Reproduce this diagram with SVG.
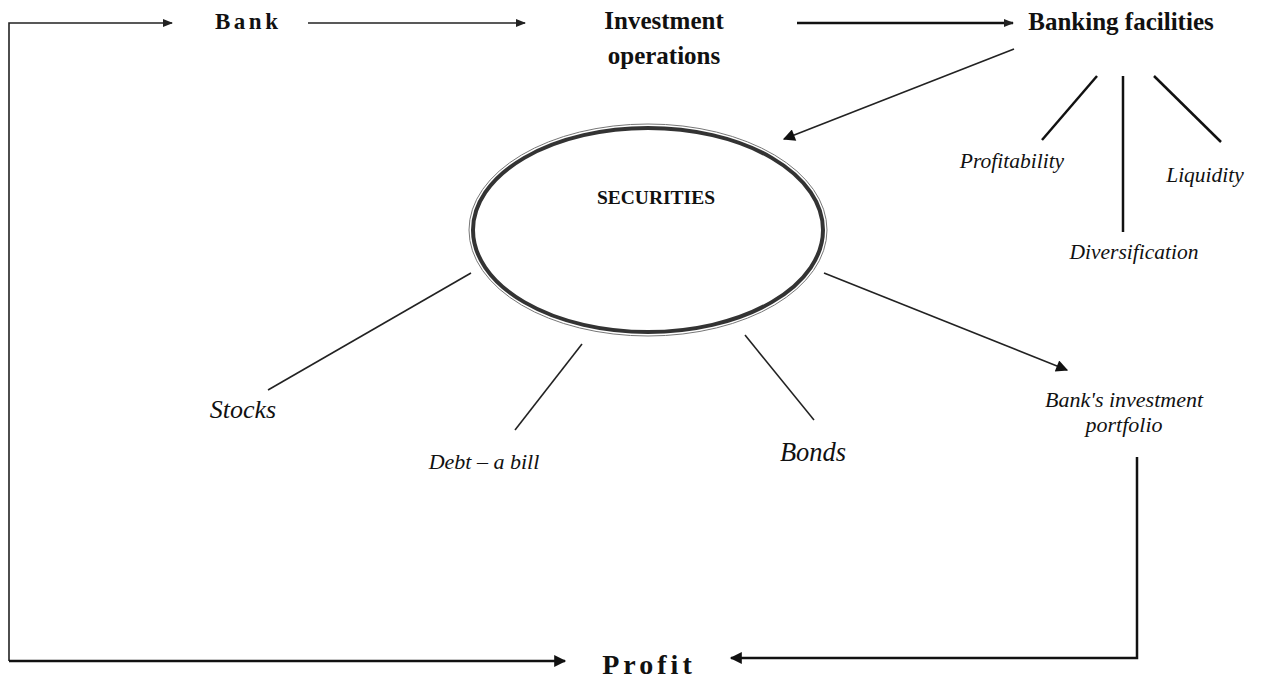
<svg xmlns="http://www.w3.org/2000/svg" width="1264" height="682" viewBox="0 0 1264 682">
<style>
.t{font-family:"Liberation Serif","Times New Roman",serif;fill:#111}
.b{font-weight:bold}
.i{font-style:italic}
.c{stroke:#222;stroke-width:1.6;fill:none}
.th{stroke:#111;stroke-width:2.5;fill:none}
</style>
<defs>
<marker id="ah" viewBox="0 0 10 10" refX="9" refY="5" markerWidth="10" markerHeight="10" markerUnits="userSpaceOnUse" orient="auto">
<path d="M0,1 L10,5 L0,9 Z" fill="#222"/>
</marker>
<marker id="ah2" viewBox="0 0 10 10" refX="9" refY="5" markerWidth="14" markerHeight="12" markerUnits="userSpaceOnUse" orient="auto">
<path d="M0,0 L10,5 L0,10 Z" fill="#111"/>
</marker>
</defs>
<rect width="1264" height="682" fill="#fff"/>
<g id="connectors">
<polyline class="c" points="9,661 9,23 172,23" marker-end="url(#ah)"/>
<line class="c" x1="308" y1="23" x2="525" y2="23" marker-end="url(#ah)"/>
<line class="th" x1="797" y1="23" x2="1013" y2="23" stroke-width="2" marker-end="url(#ah)"/>
<line class="c" x1="1014" y1="49" x2="784" y2="139" marker-end="url(#ah2)"/>
<line class="th" x1="1097" y1="76" x2="1042" y2="140" stroke-width="2"/>
<line class="th" x1="1123" y1="76" x2="1123" y2="232" stroke-width="2"/>
<line class="th" x1="1154" y1="76" x2="1221" y2="142" stroke-width="2"/>
<line class="c" x1="471" y1="273" x2="268" y2="390" stroke-width="1.3"/>
<line class="c" x1="582" y1="344" x2="515" y2="430" stroke-width="1.3"/>
<line class="c" x1="745" y1="335" x2="814" y2="420" stroke-width="1.3"/>
<line class="c" x1="824" y1="273" x2="1067" y2="370" marker-end="url(#ah2)"/>
<polyline class="th" points="1137,457 1137,658 731,658" marker-end="url(#ah2)"/>
<line class="th" x1="9" y1="661" x2="565" y2="661" marker-end="url(#ah2)"/>
</g>
<g id="bank"><text class="t b" x="215" y="29" font-size="23" letter-spacing="3.5">Bank</text></g>
<g id="investment-operations">
<text class="t b" x="664" y="29" font-size="25" text-anchor="middle">Investment</text>
<text class="t b" x="664" y="64" font-size="25" text-anchor="middle">operations</text>
</g>
<g id="banking-facilities"><text class="t b" x="1121" y="30" font-size="25" text-anchor="middle">Banking facilities</text></g>
<g id="profitability"><text class="t i" x="1012" y="168" font-size="21.5" text-anchor="middle">Profitability</text></g>
<g id="liquidity"><text class="t i" x="1205" y="182" font-size="21.5" text-anchor="middle">Liquidity</text></g>
<g id="diversification"><text class="t i" x="1134" y="259" font-size="21.5" text-anchor="middle">Diversification</text></g>
<g id="securities">
<ellipse cx="648" cy="230" rx="179" ry="106" fill="none" stroke="#777" stroke-width="1"/>
<ellipse cx="648" cy="230" rx="175" ry="102" fill="none" stroke="#333" stroke-width="4"/>
<text class="t b" x="656" y="204" font-size="19.5" text-anchor="middle">SECURITIES</text>
</g>
<g id="stocks"><text class="t i" x="243" y="418" font-size="26" text-anchor="middle">Stocks</text></g>
<g id="debt"><text class="t i" x="484" y="469" font-size="22" text-anchor="middle">Debt – a bill</text></g>
<g id="bonds"><text class="t i" x="813" y="461" font-size="26.5" text-anchor="middle">Bonds</text></g>
<g id="portfolio">
<text class="t i" x="1124" y="407" font-size="22" text-anchor="middle">Bank's investment</text>
<text class="t i" x="1124" y="432" font-size="22" text-anchor="middle">portfolio</text>
</g>
<g id="profit"><text class="t b" x="649" y="674" font-size="28" letter-spacing="4" text-anchor="middle">Profit</text></g>
</svg>
